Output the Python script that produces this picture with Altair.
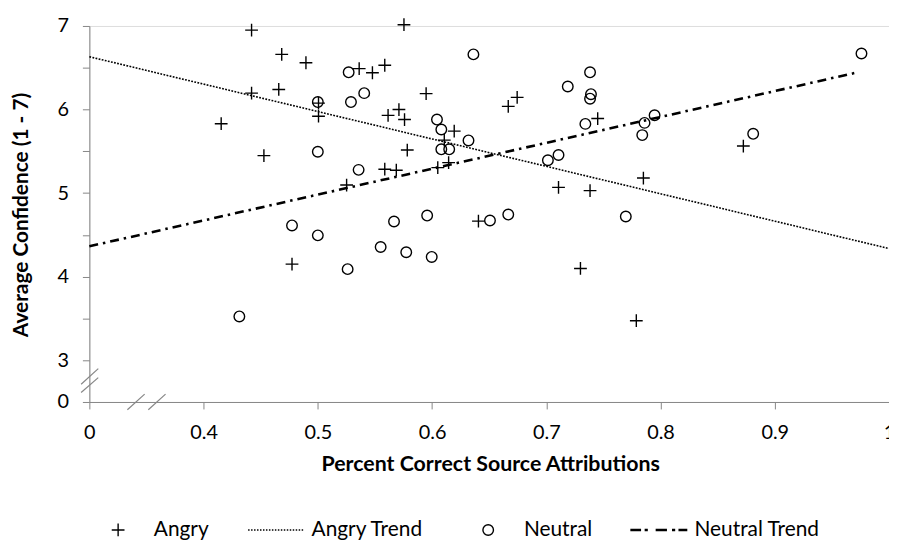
import altair as alt
import pandas as pd

# ---- data ----
angry_x = [0.4154, 0.442, 0.4684, 0.442, 0.4658, 0.4528, 0.4896, 0.5006, 0.5006, 0.5362,
           0.5478, 0.5586, 0.5754, 0.5948, 0.5615, 0.571, 0.5759, 0.6194, 0.5783, 0.6107,
           0.6145, 0.605, 0.5586, 0.5687, 0.5252, 0.6667, 0.6745, 0.7107, 0.7383, 0.745,
           0.8725, 0.785, 0.6406, 0.7299, 0.4774, 0.7788]
angry_y = [5.83, 6.95, 6.66, 6.196, 6.24, 5.448, 6.56, 6.077, 5.92, 6.49,
           6.44, 6.53, 7.015, 6.19, 5.93, 6.0, 5.88, 5.741, 5.515, 5.634,
           5.365, 5.305, 5.286, 5.274, 5.096, 6.038, 6.145, 5.068, 5.03, 5.892,
           5.563, 5.18, 4.664, 4.098, 4.15, 3.473]
neutral_x = [0.4313, 0.4774, 0.5, 0.5261, 0.555, 0.5667, 0.5774, 0.5957, 0.5997, 0.6507,
             0.6667, 0.5, 0.5, 0.527, 0.529, 0.5406, 0.5357, 0.6362, 0.6043, 0.6081,
             0.6081, 0.615, 0.6319, 0.7014, 0.7107, 0.7188, 0.7342, 0.7383, 0.7391, 0.7383,
             0.784, 0.786, 0.7948, 0.8811, 0.9759, 0.7696]
neutral_y = [3.524, 4.613, 4.494, 4.09, 4.355, 4.66, 4.292, 4.731, 4.236, 4.672,
             4.743, 5.495, 6.089, 6.445, 6.089, 6.196, 5.278, 6.66, 5.88, 5.761,
             5.524, 5.524, 5.63, 5.393, 5.456, 6.276, 5.828, 6.445, 6.184, 6.13,
             5.694, 5.84, 5.931, 5.709, 6.671, 4.72]

angry_trend_x = [0.3, 1.0]
angry_trend_y = [6.632, 4.336]
neutral_trend_x = [0.3, 0.9725]
neutral_trend_y = [4.363, 6.445]

series_names = ["Angry", "Angry Trend", "Neutral", "Neutral Trend"]
x_ticks = [0.3, 0.4, 0.5, 0.6, 0.7, 0.8, 0.9, 1.0]
y_ticks = [2.5, 3, 3.5, 4, 4.5, 5, 5.5, 6, 6.5, 7]

# axis-break decorations (data units)
brk_x = [0.3333, 0.3516, 0.2928, 0.2928]
brk_x2 = [0.3484, 0.3667, 0.3078, 0.3078]
brk_y = [2.407, 2.407, 2.713, 2.614]
brk_y2 = [2.594, 2.594, 2.899, 2.792]

# ---- symbol paths (unit box -1..1 = 56 px) ----
PX = 1 / 28.0
cross_path = "M-0.23,0L0.23,0M0,-0.23L0,0.23"
r = 0.19
circle_path = f"M{r},0A{r},{r},0,1,1,-{r},0A{r},{r},0,1,1,{r},0Z"
dots = []
p = 0.0
while p < 56:
    a = p * PX - 1
    b = min(p + 1.5, 56) * PX - 1
    dots.append(f"M{a:.4f},0L{b:.4f},0")
    p += 3.0
dotted_path = "".join(dots)
h = 0.6 * PX
segs = [(0, 9.4), (14.4, 16.2), (25.5, 35.5), (42.0, 43.8), (48.5, 56)]
dd = []
for s0, s1 in segs:
    a = s0 * PX - 1
    b = s1 * PX - 1
    dd.append(f"M{a:.4f},{-h:.4f}L{b:.4f},{-h:.4f}L{b:.4f},{h:.4f}L{a:.4f},{h:.4f}Z")
dashdot_path = "".join(dd)

pts = pd.DataFrame({
    "x": angry_x + neutral_x,
    "y": angry_y + neutral_y,
    "series": ["Angry"] * len(angry_x) + ["Neutral"] * len(neutral_x),
})
atrend = pd.DataFrame({"x": angry_trend_x, "y": angry_trend_y})
ntrend = pd.DataFrame({"x": neutral_trend_x, "y": neutral_trend_y})
brk = pd.DataFrame({"x": brk_x, "x2": brk_x2, "y": brk_y, "y2": brk_y2})

FONT = "Lato"
AX = "#868686"

xs = alt.Scale(domain=[0.3, 1.0], nice=False, zero=False)
ys = alt.Scale(domain=[2.5, 7], nice=False, zero=False)

x_axis = alt.Axis(
    values=x_ticks, grid=False, tickSize=7, labelPadding=14, labelFontSize=20,
    labelFont=FONT, labelColor="black", labelFlush=False, labelOverlap=False,
    labelExpr="datum.value < 0.35 ? '0' : (datum.value > 0.99 ? '1' : format(datum.value, '.1f'))",
    domainColor=AX, tickColor=AX, title="Percent Correct Source Attributions",
    titleFont=FONT, titleFontSize=21.5, titleFontWeight="bold", titleColor="black",
    titleX=404, titleY=69, titleBaseline="alphabetic", titleAlign="center",
)
y_axis = alt.Axis(
    values=y_ticks, grid=False, tickSize=7, labelPadding=14, labelFontSize=20,
    labelFont=FONT, labelColor="black", labelFlush=False, labelOverlap=False,
    labelExpr="datum.value < 2.75 ? '0' : (datum.value % 1 == 0 ? format(datum.value, 'd') : '')",
    domainColor=AX, tickColor=AX, title="Average Confidence (1 - 7)",
    titleFont=FONT, titleFontSize=21, titleFontWeight="bold", titleColor="black",
    titleX=-62, titleY=190, titleBaseline="alphabetic", titleAlign="center", titleAngle=-90,
)

points = alt.Chart(pts).mark_point(filled=False, color="black", strokeWidth=1.4, size=3136, opacity=1).encode(
    x=alt.X("x:Q", scale=xs, axis=x_axis),
    y=alt.Y("y:Q", scale=ys, axis=y_axis),
    shape=alt.Shape(
        "series:N",
        scale=alt.Scale(domain=series_names,
                        range=[cross_path, dotted_path, circle_path, dashdot_path]),
        legend=alt.Legend(
            title=None, orient="none", legendX=0, legendY=479, direction="horizontal",
            columns=4, symbolSize=3136, symbolStrokeColor="black", symbolStrokeWidth=1.4,
            symbolFillColor="transparent", labelFont=FONT, labelFontSize=21, labelColor="black",
            labelOffset=7, columnPadding=36, padding=0, symbolOpacity=1,
        ),
    ),
)

angry_line = alt.Chart(atrend).mark_line(color="black", strokeWidth=1.6, strokeDash=[1.8, 1.4]).encode(
    x=alt.X("x:Q", scale=xs), y=alt.Y("y:Q", scale=ys))
neutral_line = alt.Chart(ntrend).mark_line(color="black", strokeWidth=2.6, strokeDash=[9, 5, 2.5, 5]).encode(
    x=alt.X("x:Q", scale=xs), y=alt.Y("y:Q", scale=ys))
breaks = alt.Chart(brk).mark_rule(color=AX, strokeWidth=1.2).encode(
    x=alt.X("x:Q", scale=xs), x2="x2:Q", y=alt.Y("y:Q", scale=ys), y2="y2:Q")

chart = alt.layer(angry_line, neutral_line, points, breaks).properties(
    width=806, height=379,
    autosize=alt.AutoSizeParams(type="none"),
    padding={"left": 82, "top": 16, "right": 0, "bottom": 137},
).configure_view(stroke=None).configure(background="white")

chart.save("out.html", embed_options={"renderer": "svg", "actions": False})
